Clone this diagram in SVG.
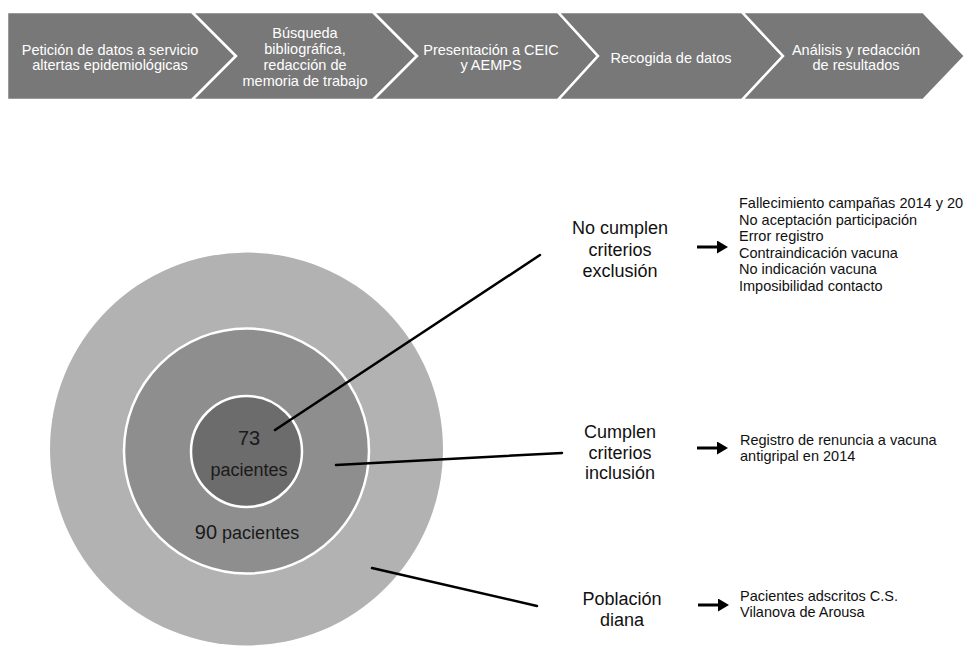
<svg xmlns="http://www.w3.org/2000/svg" width="965" height="646" viewBox="0 0 965 646">
<defs>
<style>
.chev{fill:#787878;stroke:#ffffff;stroke-width:2.5;stroke-linejoin:miter}
.ct{font-family:"Liberation Sans",Arial,Helvetica,sans-serif;font-size:14.5px;fill:#ffffff;text-anchor:middle}
.lbl{font-family:"Liberation Sans",Arial,Helvetica,sans-serif;font-size:18px;fill:#111111;text-anchor:middle}
.lst{font-family:"Liberation Sans",Arial,Helvetica,sans-serif;font-size:14.5px;fill:#111111}
.ctxt{font-family:"Liberation Sans",Arial,Helvetica,sans-serif;fill:#1a1a1a;text-anchor:middle}
.ring{stroke:#ffffff;stroke-width:2.5}
.conn{stroke:#000000;stroke-width:2.5;fill:none;stroke-linecap:round}
.arr{stroke:#000000;stroke-width:3;fill:none}
</style>
<marker id="ah" markerWidth="12" markerHeight="13" refX="0" refY="6.5" orient="auto" markerUnits="userSpaceOnUse">
<path d="M0,0 L11,6.5 L0,13 z" fill="#000000"/>
</marker>
</defs>
<rect width="965" height="646" fill="#ffffff"/>

<g id="step1">
<polygon class="chev" points="7,12 192,12 236,56 192,100 7,100"/>
<text class="ct" x="110" y="55">Petición de datos a servicio</text>
<text class="ct" x="110" y="70">altertas epidemiológicas</text>
</g>
<g id="step2">
<polygon class="chev" points="192,12 373,12 417,56 373,100 192,100 236,56"/>
<text class="ct" x="305" y="38">Búsqueda</text>
<text class="ct" x="305" y="54">bibliográfica,</text>
<text class="ct" x="305" y="70">redacción de</text>
<text class="ct" x="305" y="86">memoria de trabajo</text>
</g>
<g id="step3">
<polygon class="chev" points="373,12 558,12 598,56 558,100 373,100 417,56"/>
<text class="ct" x="491" y="55">Presentación a CEIC</text>
<text class="ct" x="491" y="70">y AEMPS</text>
</g>
<g id="step4">
<polygon class="chev" points="558,12 742,12 783,56 742,100 558,100 598,56"/>
<text class="ct" x="671" y="63">Recogida de datos</text>
</g>
<g id="step5">
<polygon class="chev" points="742,12 923,12 965,56 923,100 742,100 783,56"/>
<text class="ct" x="856" y="55">Análisis y redacción</text>
<text class="ct" x="856" y="70">de resultados</text>
</g>

<g id="poblacion-circle">
<circle cx="246.5" cy="449" r="196.5" fill="#b2b2b2"/>
</g>
<g id="inclusion-circle">
<circle class="ring" cx="246.5" cy="451" r="122.5" fill="#8e8e8e"/>
<text class="ctxt" x="247" y="539"><tspan font-size="20">90</tspan><tspan font-size="18"> pacientes</tspan></text>
</g>
<g id="exclusion-circle">
<circle class="ring" cx="246.5" cy="451.5" r="55.5" fill="#6c6c6c"/>
<text class="ctxt" x="249" y="445" font-size="20">73</text>
<text class="ctxt" x="249" y="476" font-size="18">pacientes</text>
</g>

<g id="connectors">
<line class="conn" x1="275" y1="430" x2="540" y2="255"/>
<line class="conn" x1="336" y1="465" x2="562" y2="453"/>
<line class="conn" x1="372" y1="568" x2="537" y2="606"/>
<line class="arr" x1="697" y1="247" x2="717" y2="247" marker-end="url(#ah)"/>
<line class="arr" x1="697" y1="448" x2="717" y2="448" marker-end="url(#ah)"/>
<line class="arr" x1="698" y1="605" x2="718" y2="605" marker-end="url(#ah)"/>
</g>

<g id="label-exclusion">
<text class="lbl" x="620" y="234">No cumplen</text>
<text class="lbl" x="620" y="256">criterios</text>
<text class="lbl" x="620" y="277">exclusión</text>
</g>
<g id="label-inclusion">
<text class="lbl" x="620" y="438">Cumplen</text>
<text class="lbl" x="620" y="459">criterios</text>
<text class="lbl" x="620" y="479">inclusión</text>
</g>
<g id="label-poblacion">
<text class="lbl" x="622" y="605">Población</text>
<text class="lbl" x="622" y="626">diana</text>
</g>

<g id="list-exclusion">
<text class="lst" x="739" y="208">Fallecimiento campañas 2014 y 20</text>
<text class="lst" x="739" y="225">No aceptación participación</text>
<text class="lst" x="739" y="241">Error registro</text>
<text class="lst" x="739" y="258">Contraindicación vacuna</text>
<text class="lst" x="739" y="274">No indicación vacuna</text>
<text class="lst" x="739" y="291">Imposibilidad contacto</text>
</g>
<g id="list-inclusion">
<text class="lst" x="740" y="445">Registro de renuncia a vacuna</text>
<text class="lst" x="740" y="461">antigripal en 2014</text>
</g>
<g id="list-poblacion">
<text class="lst" x="740" y="601">Pacientes adscritos C.S.</text>
<text class="lst" x="740" y="617">Vilanova de Arousa</text>
</g>
</svg>
